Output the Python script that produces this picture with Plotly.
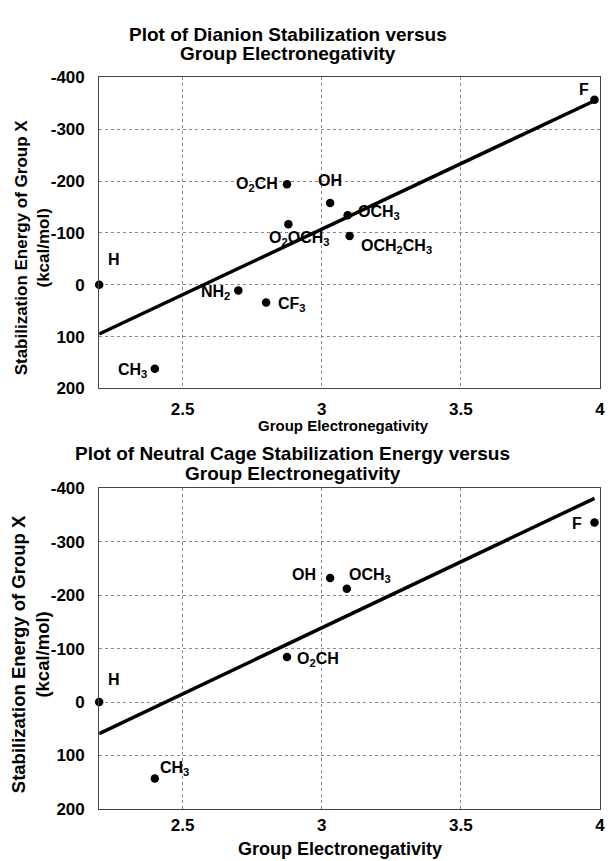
import plotly.graph_objects as go

W, H = 611, 861

# ---- data: dianion (top) ----
top_labels = ["H", "CH<sub>3</sub>", "NH<sub>2</sub>", "CF<sub>3</sub>", "O<sub>2</sub>CH",
              "O<sub>2</sub>OCH<sub>3</sub>", "OH", "OCH<sub>3</sub>", "OCH<sub>2</sub>CH<sub>3</sub>", "F"]
top_x = [2.20, 2.40, 2.70, 2.80, 2.875, 2.88, 3.03, 3.093, 3.10, 3.98]
top_y = [0, 162, 11, 34, -194, -117, -158, -134, -94, -357]
top_fit_x = [2.20, 3.98]
top_fit_y = [95, -355]

# ---- data: neutral cage (bottom) ----
bot_labels = ["H", "CH<sub>3</sub>", "O<sub>2</sub>CH", "OH", "OCH<sub>3</sub>", "F"]
bot_x = [2.20, 2.40, 2.875, 3.03, 3.09, 3.98]
bot_y = [0, 143, -84, -232, -212, -336]
bot_fit_x = [2.20, 3.98]
bot_fit_y = [59, -381]

x_ticks = [2.5, 3, 3.5, 4]
x_ticklabels = ["2.5", "3", "3.5", "4"]
y_ticks = [-400, -300, -200, -100, 0, 100, 200]
y_ticklabels = ["-400", "-300", "-200", "-100", "0", "100", "200"]

# label placement (xanchor, xshift, yshift) -- style only
top_place = [("left", 7, 25), ("right", -6, -2), ("right", -6, -2), ("left", 10, -2), ("right", -7, 0),
             ("left", -21, -14), ("center", 0, 22), ("left", 8, 3), ("left", 9, -10), ("right", -3, 10)]
bot_place = [("left", 7, 23), ("left", 3, 10), ("left", 8, -2), ("right", -12, 3), ("left", 0, 13),
             ("right", -10, -1)]

FONT = "Liberation Sans, Arial, Helvetica, sans-serif"

fig = go.Figure()

def add_panel(xs, ys, fx, fy, xa, ya):
    fig.add_trace(go.Scatter(x=fx, y=fy, mode="lines", line=dict(color="black", width=3.5),
                             xaxis=xa, yaxis=ya, showlegend=False, hoverinfo="skip"))
    fig.add_trace(go.Scatter(x=xs, y=ys, mode="markers", marker=dict(color="black", size=8.5),
                             xaxis=xa, yaxis=ya, showlegend=False, cliponaxis=False))

add_panel(top_x, top_y, top_fit_x, top_fit_y, "x", "y")
add_panel(bot_x, bot_y, bot_fit_x, bot_fit_y, "x2", "y2")

def label_annots(labels, xs, ys, place, xr, yr):
    out = []
    for lab, x, y, (xa, dx, dy) in zip(labels, xs, ys, place):
        out.append(dict(x=x, y=y, xref=xr, yref=yr, text="<b>%s</b>" % lab, showarrow=False,
                        xanchor=xa, yanchor="middle", xshift=dx, yshift=dy,
                        font=dict(family=FONT, size=16, color="black")))
    return out

axis_common = dict(showgrid=True, gridcolor="#888", griddash="dot", gridwidth=1,
                   showline=True, linecolor="#444", linewidth=1, mirror=True,
                   zeroline=False, ticks="",
                   tickfont=dict(family=FONT, size=17, color="black", weight="bold"))

fig.update_layout(
    width=W, height=H, margin=dict(l=0, r=0, t=0, b=0),
    paper_bgcolor="white", plot_bgcolor="white",
    xaxis=dict(domain=[100 / W, 605 / W], range=[2.2, 4], tickvals=x_ticks, ticktext=x_ticklabels,
               anchor="y", ticklabelstandoff=5, **axis_common),
    yaxis=dict(domain=[1 - 388 / H, 1 - 70 / H], range=[200, -400], tickvals=y_ticks,
               ticktext=y_ticklabels, anchor="x", ticklabelstandoff=10, **axis_common),
    xaxis2=dict(domain=[100 / W, 605 / W], range=[2.2, 4], tickvals=x_ticks, ticktext=x_ticklabels,
                anchor="y2", ticklabelstandoff=1, **axis_common),
    yaxis2=dict(domain=[1 - 818 / H, 1 - 490 / H], range=[200, -400], tickvals=y_ticks,
                ticktext=y_ticklabels, anchor="x2", ticklabelstandoff=10, **axis_common),
)

annots = []
annots += label_annots(top_labels, top_x, top_y, top_place, "x", "y")
annots += label_annots(bot_labels, bot_x, bot_y, bot_place, "x2", "y2")

def txt(text, px, py, size, angle=0, yanchor="middle"):
    return dict(x=px / W, y=1 - py / H, xref="paper", yref="paper", text=text, showarrow=False,
                xanchor="center", yanchor=yanchor, textangle=angle,
                font=dict(family=FONT, size=size, color="black"))

annots += [
    txt("<b>Plot of Dianion Stabilization versus</b>", 290, 26, 19),
    txt("<b>Group Electronegativity</b>", 290, 46, 19),
    txt("<b>Group Electronegativity</b>", 346, 426, 15),
    txt("<b>Stabilization Energy of Group X<br>(kcal/mol)</b>", 33, 244, 17, -90),
    txt("<b>Plot of Neutral Cage Stabilization Energy versus</b>", 295, 455, 19),
    txt("<b>Group Electronegativity</b>", 295, 475, 19),
    txt("<b>Group Electronegativity</b>", 343, 859, 18),
    txt("<b>Stabilization Energy of Group X<br>(kcal/mol)</b>", 31, 660, 18.5, -90),
]
fig.update_layout(annotations=annots)

fig.write_html("out.html")
